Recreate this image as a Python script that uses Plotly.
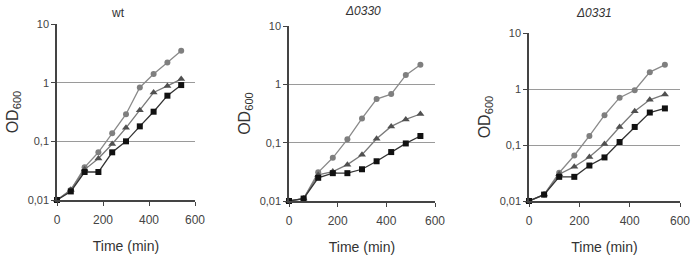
import plotly.graph_objects as go

time = [0, 60, 120, 180, 240, 300, 360, 420, 480, 540]

wt_circle = [0.01, 0.0148, 0.036, 0.065, 0.137, 0.29, 0.83, 1.4, 2.2, 3.5]
wt_triangle = [0.01, 0.015, 0.033, 0.051, 0.09, 0.17, 0.34, 0.68, 0.88, 1.15]
wt_square = [0.01, 0.014, 0.03, 0.03, 0.065, 0.1, 0.18, 0.32, 0.6, 0.91]

d0330_circle = [0.01, 0.011, 0.031, 0.055, 0.114, 0.26, 0.56, 0.68, 1.44, 2.17]
d0330_triangle = [0.01, 0.011, 0.028, 0.032, 0.042, 0.062, 0.117, 0.19, 0.25, 0.31]
d0330_square = [0.01, 0.011, 0.025, 0.03, 0.03, 0.035, 0.048, 0.069, 0.097, 0.13]

d0331_circle = [0.01, 0.013, 0.032, 0.065, 0.145, 0.34, 0.7, 0.95, 2.0, 2.7]
d0331_triangle = [0.01, 0.013, 0.03, 0.041, 0.061, 0.104, 0.21, 0.4, 0.64, 0.8]
d0331_square = [0.01, 0.013, 0.027, 0.027, 0.043, 0.06, 0.113, 0.21, 0.38, 0.45]

titles = ["wt", "<i>Δ0330</i>", "<i>Δ0331</i>"]
ytickvals = [0.01, 0.1, 1, 10]
yticktext = ["0,01", "0,1", "1", "10"]
xtickvals = [0, 200, 400, 600]

W, H = 693, 260
panels = [
    dict(x0=57, x1=195, ytop=24, ybot=200, title_x=118, title_y=13,
         data=[wt_circle, wt_triangle, wt_square]),
    dict(x0=289, x1=435, ytop=26, ybot=201, title_x=363, title_y=11,
         data=[d0330_circle, d0330_triangle, d0330_square]),
    dict(x0=529, x1=680, ytop=33, ybot=201, title_x=594, title_y=13,
         data=[d0331_circle, d0331_triangle, d0331_square]),
]

styles = [
    dict(symbol="circle", mcolor="#7f7f7f", lcolor="#8a8a8a", size=6),
    dict(symbol="triangle-up", mcolor="#505050", lcolor="#7a7a7a", size=7),
    dict(symbol="square", mcolor="#111111", lcolor="#333333", size=6),
]

fig = go.Figure()
layout = dict(
    width=W, height=H, margin=dict(l=0, r=0, t=0, b=0),
    paper_bgcolor="white", plot_bgcolor="white", showlegend=False,
    font=dict(family="Liberation Sans, Arial, sans-serif", color="#333333"),
)
annotations = []
for i, p in enumerate(panels):
    n = "" if i == 0 else str(i + 1)
    xa, ya = "x" + n, "y" + n
    for series, st in zip(p["data"], styles):
        fig.add_trace(go.Scatter(
            x=time, y=series, xaxis=xa, yaxis=ya, mode="lines+markers",
            line=dict(color=st["lcolor"], width=1.3),
            marker=dict(symbol=st["symbol"], color=st["mcolor"], size=st["size"]),
            cliponaxis=False,
        ))
    layout["xaxis" + n] = dict(
        domain=[p["x0"] / W, p["x1"] / W], anchor=ya, range=[0, 600],
        tickvals=xtickvals, ticks="outside", ticklen=4, tickcolor="#444",
        showline=True, linecolor="#444", linewidth=1.5, showgrid=False,
        zeroline=False, tickfont=dict(size=12, color="#444"), automargin=False,
        ticklabelstandoff=4,
        title=dict(text="Time (min)", font=dict(size=14, color="#333"), standoff=15),
    )
    layout["yaxis" + n] = dict(
        domain=[(H - p["ybot"]) / H, (H - p["ytop"]) / H], anchor=xa,
        type="log", range=[-2, 1], tickvals=ytickvals, ticktext=yticktext,
        ticks="outside", ticklen=4, tickcolor="#444",
        showline=True, linecolor="#444", linewidth=1.5, automargin=False,
        showgrid=True, gridcolor="#9a9a9a", gridwidth=1.2, zeroline=False,
        tickfont=dict(size=11, color="#444"),
        title=dict(text="OD<sub>600</sub>", font=dict(size=16, color="#333"), standoff=5),
    )
    annotations.append(dict(
        text=titles[i], x=p["title_x"] / W, y=(H - p["title_y"]) / H,
        xref="paper", yref="paper", showarrow=False,
        font=dict(size=12, color="#333"), xanchor="center", yanchor="middle",
    ))
layout["annotations"] = annotations
fig.update_layout(**layout)
fig.write_html("out.html", config={"displayModeBar": False})

# remove default page margin so the figure sits at the window's top-left corner
with open("out.html", encoding="utf-8") as f:
    html = f.read()
html = html.replace("<head>", "<head><style>html,body{margin:0;padding:0;overflow:hidden;}</style>", 1)
with open("out.html", "w", encoding="utf-8") as f:
    f.write(html)
